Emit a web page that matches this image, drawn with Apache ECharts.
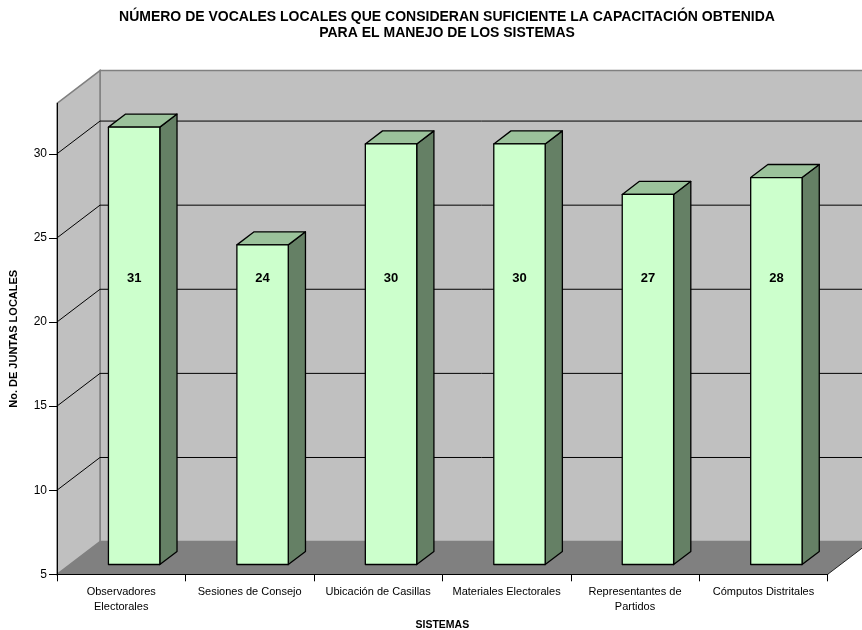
<!DOCTYPE html>
<html>
<head>
<meta charset="utf-8">
<script src="https://cdn.jsdelivr.net/npm/echarts@6/dist/echarts.min.js"></script>
<style>
  html, body { margin: 0; padding: 0; background: #ffffff; }
  #chart { width: 862px; height: 630px; }
</style>
</head>
<body>
<div id="chart"></div>
<script>
// Systems surveyed and the number of local boards for each
const categories = [
  'Observadores\nElectorales',
  'Sesiones de Consejo',
  'Ubicación de Casillas',
  'Materiales Electorales',
  'Representantes de\nPartidos',
  'Cómputos Distritales'
];
const values = [31, 24, 30, 30, 27, 28];
const yTicks = [5, 10, 15, 20, 25, 30];

// Oblique projection of the depth axis (pixels for the full depth)
const DX = 43, DY = -32.7;
// Bar placement inside the depth and the category band (fractions)
const BAR_FRONT = 0.3, BAR_DEPTH = 0.4, BAR_WIDTH = 0.4;
const AXIS_MIN = 5, AXIS_MAX = 33;
// value level where the in-bar labels sit
const LABEL_LEVEL = 22.0;

const FONT = '"Liberation Sans", Arial, sans-serif';

function renderWalls(params, api) {
  const cs = params.coordSys;
  const x0 = cs.x, x1 = cs.x + cs.width;
  const yb = api.coord([0, AXIS_MIN])[1];
  const yt = api.coord([0, AXIS_MAX])[1];
  const children = [];
  // back wall
  children.push({
    type: 'polygon',
    shape: { points: [[x0 + DX, yt + DY], [x1 + DX, yt + DY], [x1 + DX, yb + DY], [x0 + DX, yb + DY]] },
    style: { fill: '#c0c0c0', stroke: '#808080', lineWidth: 1.5 }
  });
  // side wall
  children.push({
    type: 'polygon',
    shape: { points: [[x0, yb], [x0, yt], [x0 + DX, yt + DY], [x0 + DX, yb + DY]] },
    style: { fill: '#c0c0c0', stroke: '#808080', lineWidth: 1.5 }
  });
  // floor
  children.push({
    type: 'polygon',
    shape: { points: [[x0, yb], [x1, yb], [x1 + DX, yb + DY], [x0 + DX, yb + DY]] },
    style: { fill: '#808080', stroke: null }
  });
  children.push({
    type: 'line',
    shape: { x1: x1, y1: yb, x2: x1 + DX, y2: yb + DY },
    style: { stroke: '#222', lineWidth: 1 }
  });
  // gridlines across side and back walls
  yTicks.filter(v => v > AXIS_MIN).forEach(v => {
    const y = api.coord([0, v])[1];
    children.push({
      type: 'polyline',
      shape: { points: [[x0, y], [x0 + DX, y + DY], [x1 + DX, y + DY]] },
      style: { stroke: '#000', lineWidth: 1, fill: null }
    });
  });
  return { type: 'group', children: children };
}

function renderBar(params, api) {
  const i = api.value(0), v = api.value(1);
  const band = api.size([1, 0])[0];
  const w = band * BAR_WIDTH;
  const top = api.coord([i, v]);
  const base = api.coord([i, AXIS_MIN]);
  const L = top[0] - w / 2 + BAR_FRONT * DX;
  const R = L + w;
  const T = top[1] + BAR_FRONT * DY;
  const B = base[1] + BAR_FRONT * DY;
  const dx = BAR_DEPTH * DX, dy = BAR_DEPTH * DY;
  const edge = { stroke: '#000', lineWidth: 1.3, lineJoin: 'round' };
  const ly = api.coord([i, LABEL_LEVEL])[1] + BAR_FRONT * DY;
  return {
    type: 'group',
    children: [
      { type: 'polygon', shape: { points: [[R, T], [R + dx, T + dy], [R + dx, B + dy], [R, B]] },
        style: Object.assign({ fill: '#658065' }, edge) },
      { type: 'polygon', shape: { points: [[L, T], [L + dx, T + dy], [R + dx, T + dy], [R, T]] },
        style: Object.assign({ fill: '#9bc29b' }, edge) },
      { type: 'polygon', shape: { points: [[L, T], [R, T], [R, B], [L, B]] },
        style: Object.assign({ fill: '#ccffcc' }, edge) },
      { type: 'text', x: L + w / 2, y: ly,
        style: { text: String(v), fill: '#000', font: 'bold 13px ' + FONT, align: 'center', verticalAlign: 'middle' } }
    ]
  };
}

const chart = echarts.init(document.getElementById('chart'), null, { renderer: 'canvas' });
chart.setOption({
  backgroundColor: '#ffffff',
  animation: false,
  title: {
    text: 'NÚMERO DE VOCALES LOCALES QUE CONSIDERAN SUFICIENTE LA CAPACITACIÓN OBTENIDA\nPARA EL MANEJO DE LOS SISTEMAS',
    left: 442,
    top: 4,
    textAlign: 'center',
    textStyle: { fontFamily: FONT, fontSize: 14, fontWeight: 'bold', color: '#000', lineHeight: 16 }
  },
  grid: { left: 57, right: 34.3, top: 103.3, bottom: 55.7, containLabel: false, outerBoundsMode: 'none' },
  xAxis: {
    type: 'category',
    data: categories,
    boundaryGap: true,
    z: 3,
    name: 'SISTEMAS',
    nameLocation: 'middle',
    nameGap: 44,
    nameTextStyle: { fontFamily: FONT, fontSize: 10.5, fontWeight: 'bold', color: '#000' },
    axisLine: { show: true, lineStyle: { color: '#000', width: 1 } },
    axisTick: { show: true, length: 7, lineStyle: { color: '#000' } },
    axisLabel: { interval: 0, margin: 10, fontFamily: FONT, fontSize: 11, color: '#000', lineHeight: 15 },
    splitLine: { show: false }
  },
  yAxis: {
    type: 'value',
    min: AXIS_MIN,
    max: AXIS_MAX,
    interval: 5,
    z: 3,
    name: 'No. DE JUNTAS LOCALES',
    nameLocation: 'middle',
    nameGap: 38,
    nameTextStyle: { fontFamily: FONT, fontSize: 11, fontWeight: 'bold', color: '#000' },
    axisLine: { show: true, lineStyle: { color: '#000', width: 1 } },
    axisTick: { show: true, length: 8, customValues: yTicks, lineStyle: { color: '#000' } },
    axisLabel: { margin: 10, customValues: yTicks, fontFamily: FONT, fontSize: 12, color: '#000' },
    splitLine: { show: false }
  },
  series: [
    {
      type: 'custom',
      z: 1,
      silent: true,
      renderItem: renderWalls,
      data: [[0, AXIS_MIN]]
    },
    {
      type: 'custom',
      z: 4,
      renderItem: renderBar,
      data: values.map((v, i) => [i, v])
    }
  ]
});
</script>
</body>
</html>
